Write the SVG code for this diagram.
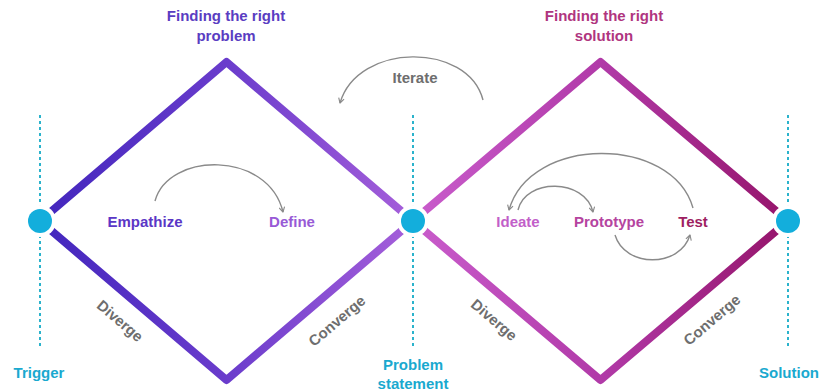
<svg xmlns="http://www.w3.org/2000/svg" width="821" height="391" viewBox="0 0 821 391">
  <defs>
    <linearGradient id="gradProblem" gradientUnits="userSpaceOnUse" x1="40" y1="0" x2="413" y2="0">
      <stop offset="0" stop-color="#4226bd"/>
      <stop offset="0.5" stop-color="#6a3ccc"/>
      <stop offset="1" stop-color="#a65fda"/>
    </linearGradient>
    <linearGradient id="gradSolution" gradientUnits="userSpaceOnUse" x1="413" y1="0" x2="788" y2="0">
      <stop offset="0" stop-color="#c95ccc"/>
      <stop offset="0.5" stop-color="#b13aa8"/>
      <stop offset="1" stop-color="#95146a"/>
    </linearGradient>
    <marker id="arrow" viewBox="0 0 10 10" refX="8" refY="5" markerWidth="7" markerHeight="7" markerUnits="userSpaceOnUse" orient="auto">
      <path d="M1,1 L8,5 L1,9" fill="none" stroke="#8a8a8a" stroke-width="1.6" stroke-linejoin="round"/>
    </marker>
  </defs>
  <style>
    text { font-family: "Liberation Sans", Arial, sans-serif; font-weight: bold; }
    .title { font-size: 15px; text-anchor: middle; }
    .step { font-size: 15px; text-anchor: middle; }
    .mode { font-size: 15px; text-anchor: middle; fill: #6e6e6e; }
    .milestone { font-size: 15px; text-anchor: middle; fill: #1aa9cf; }
    .guide { stroke: #2bb3cc; stroke-width: 2; stroke-dasharray: 3 3; fill: none; }
    .diamond { fill: none; stroke-width: 8; stroke-linejoin: round; }
    .halo { fill: #ffffff; }
    .dot { fill: #13aedc; }
    .flow { fill: none; stroke: #8a8a8a; stroke-width: 1.4; marker-end: url(#arrow); }
  </style>

  <rect width="821" height="391" fill="#ffffff"/>

  <!-- dotted guide lines -->
  <line class="guide" x1="40" y1="115" x2="40" y2="348"/>
  <line class="guide" x1="413" y1="115" x2="413" y2="348"/>
  <line class="guide" x1="788" y1="115" x2="788" y2="348"/>

  <!-- double diamond -->
  <g id="diamond-problem">
    <polygon class="diamond" stroke="url(#gradProblem)" points="40,221 226.5,62 413,221 226.5,380"/>
    <text class="title" x="226" y="21" fill="#5a3dc2">Finding the right</text>
    <text class="title" x="226" y="41" fill="#5a3dc2">problem</text>
    <text class="mode" transform="translate(120,321) rotate(40.6)" y="5">Diverge</text>
    <text class="mode" transform="translate(337,321) rotate(-40.6)" y="5">Converge</text>
  </g>
  <g id="diamond-solution">
    <polygon class="diamond" stroke="url(#gradSolution)" points="413,221 600.5,62 788,221 600.5,380"/>
    <text class="title" x="604" y="21" fill="#b0357f">Finding the right</text>
    <text class="title" x="604" y="41" fill="#b0357f">solution</text>
    <text class="mode" transform="translate(494,320) rotate(40.6)" y="5">Diverge</text>
    <text class="mode" transform="translate(712,320) rotate(-40.6)" y="5">Converge</text>
  </g>

  <!-- milestones -->
  <g id="trigger">
    <circle class="halo" cx="40" cy="221" r="16"/>
    <circle class="dot" cx="40" cy="221" r="12"/>
    <text class="milestone" x="39" y="378">Trigger</text>
  </g>
  <g id="problem-statement">
    <circle class="halo" cx="413" cy="221" r="16"/>
    <circle class="dot" cx="413" cy="221" r="12"/>
    <text class="milestone" x="413" y="370">Problem</text>
    <text class="milestone" x="413" y="389">statement</text>
  </g>
  <g id="solution">
    <circle class="halo" cx="788" cy="221" r="16"/>
    <circle class="dot" cx="788" cy="221" r="12"/>
    <text class="milestone" x="789" y="378">Solution</text>
  </g>

  <!-- design steps -->
  <g id="empathize"><text class="step" x="145" y="227" fill="#5b37c6">Empathize</text></g>
  <g id="define"><text class="step" x="292" y="227" fill="#985ad6">Define</text></g>
  <g id="ideate"><text class="step" x="518" y="227" fill="#c25fc9">Ideate</text></g>
  <g id="prototype"><text class="step" x="609" y="227" fill="#b5449f">Prototype</text></g>
  <g id="test"><text class="step" x="693" y="227" fill="#9e1f62">Test</text></g>
  <g id="iterate"><text class="mode" x="415" y="83" fill="#777777">Iterate</text></g>

  <!-- flow arrows -->
  <g id="connectors">
    <path class="flow" d="M155,201 C168,152 268,150 283,212"/>
    <path class="flow" d="M483,100 C468,42 358,42 340,103"/>
    <path class="flow" d="M693,208 C672,135 530,135 509,210"/>
    <path class="flow" d="M518,210 C525,178 585,178 593,212"/>
    <path class="flow" d="M615,235 C625,268 680,268 690,235"/>
  </g>
</svg>
